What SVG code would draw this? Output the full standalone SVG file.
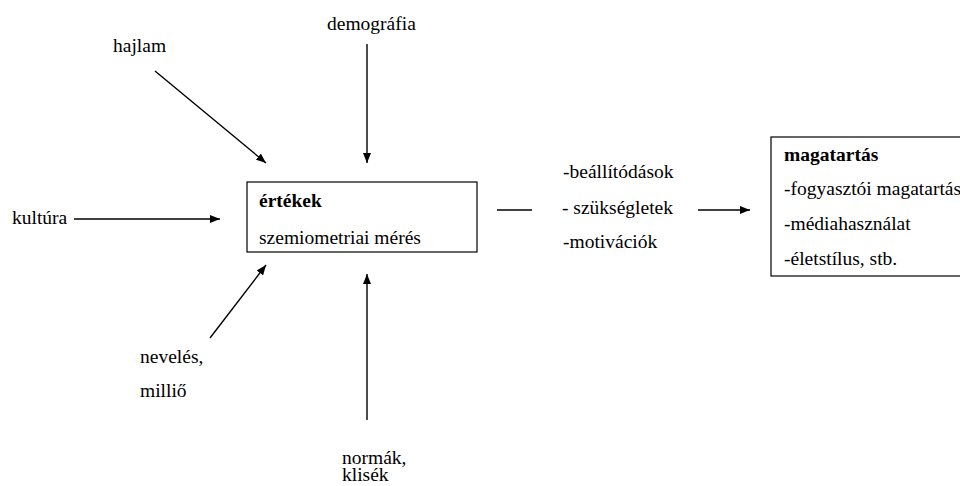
<svg xmlns="http://www.w3.org/2000/svg" width="960" height="486" viewBox="0 0 960 486">
<defs>
<marker id="ah" markerWidth="10" markerHeight="8" refX="10" refY="4" orient="auto" markerUnits="userSpaceOnUse">
<path d="M0,0 L10,4 L0,8 Z" fill="#000"/>
</marker>
<style>
text{font-family:"Liberation Serif","Times New Roman",serif;font-size:19.5px;fill:#000}
.b{font-weight:bold}
.box{fill:#fff;stroke:#000;stroke-width:1.2}
.c{stroke:#000;stroke-width:1.4;fill:none}
.a{marker-end:url(#ah)}
</style>
</defs>
<rect width="960" height="486" fill="#fff"/>
<g id="connectors">
<line class="c a" x1="155" y1="71" x2="266" y2="163"/>
<line class="c a" x1="367" y1="44" x2="367" y2="163"/>
<line class="c a" x1="74" y1="219" x2="220" y2="219"/>
<line class="c a" x1="210" y1="338" x2="266" y2="265"/>
<line class="c a" x1="367" y1="420" x2="367" y2="274"/>
<line class="c" x1="497" y1="210" x2="532" y2="210"/>
<line class="c a" x1="698" y1="210" x2="750" y2="210"/>
</g>
<g id="ertekek">
<rect class="box" x="247" y="182" width="230" height="70"/>
<text class="b" x="259" y="207">értékek</text>
<text x="259" y="244">szemiometriai mérés</text>
</g>
<g id="magatartas">
<rect class="box" x="771" y="137" width="200" height="139"/>
<text class="b" x="784" y="161">magatartás</text>
<text x="784" y="195">-fogyasztói magatartás</text>
<text x="784" y="230">-médiahasználat</text>
<text x="784" y="265">-életstílus, stb.</text>
</g>
<g id="hajlam"><text x="113" y="52">hajlam</text></g>
<g id="demografia"><text x="327" y="30">demográfia</text></g>
<g id="kultura"><text x="12" y="224">kultúra</text></g>
<g id="neveles"><text x="140" y="363">nevelés,</text><text x="140" y="397">milliő</text></g>
<g id="normak"><text x="342" y="464">normák,</text><text x="342" y="481">klisék</text></g>
<g id="kozvetitok">
<text x="563" y="178">-beállítódások</text>
<text x="562" y="214">- szükségletek</text>
<text x="563" y="248">-motivációk</text>
</g>
</svg>
